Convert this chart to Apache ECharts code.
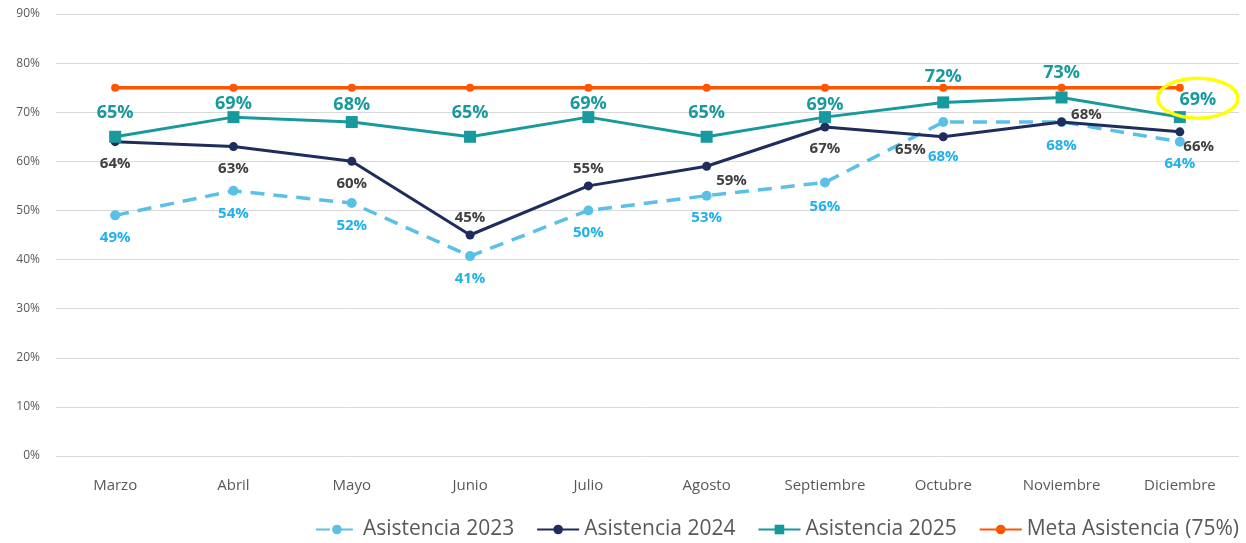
<!DOCTYPE html>
<html>
<head>
<meta charset="utf-8">
<script src="https://cdn.jsdelivr.net/npm/echarts@6/dist/echarts.min.js"></script>
<style>
  html, body { margin: 0; padding: 0; background: #fff; }
  #chart { width: 1246px; height: 543px; }
</style>
</head>
<body>
<div id="chart"></div>
<script>
var meses = ['Marzo', 'Abril', 'Mayo', 'Junio', 'Julio', 'Agosto', 'Septiembre', 'Octubre', 'Noviembre', 'Diciembre'];
var asis2023 = [49, 54, 51.5, 40.7, 50, 53, 55.7, 68, 68, 64];
var asis2024 = [64, 63, 60, 45, 55, 59, 67, 65, 68, 66];
var asis2025 = [65, 69, 68, 65, 69, 65, 69, 72, 73, 69];
var meta = [75, 75, 75, 75, 75, 75, 75, 75, 75, 75];

// ajustes de etiquetas (estilo, no datos)
var pos2023 = [
  { position: 'bottom', offset: [0, 5] },
  { position: 'bottom', offset: [0, 5] },
  { position: 'bottom', offset: [0, 5] },
  { position: 'bottom', offset: [0, 5] },
  { position: 'bottom', offset: [0, 5] },
  { position: 'bottom', offset: [0, 5] },
  { position: 'bottom', offset: [0, 7] },
  { position: 'bottom', offset: [0, 17] },
  { position: 'bottom', offset: [0, 6] },
  { position: 'bottom', offset: [0, 5] }
];
var pos2024 = [
  { position: 'bottom', offset: [0, 5] },
  { position: 'bottom', offset: [0, 5] },
  { position: 'bottom', offset: [0, 5] },
  { position: 'top', offset: [0, 0] },
  { position: 'top', offset: [0, 0] },
  { position: 'right', offset: [0, 14] },
  { position: 'bottom', offset: [0, 5] },
  { position: 'left', offset: [-8, 13] },
  { position: 'right', offset: [0, -7] },
  { position: 'right', offset: [-6, 15] }
];
var pos2025 = [
  { position: 'top', offset: [0, 1] },
  { position: 'top', offset: [0, 12] },
  { position: 'top', offset: [0, 8] },
  { position: 'top', offset: [0, 1] },
  { position: 'top', offset: [0, 12] },
  { position: 'top', offset: [0, 1] },
  { position: 'top', offset: [0, 13] },
  { position: 'top', offset: [0, -1] },
  { position: 'top', offset: [0, 0] },
  { position: 'top', offset: [18, 8] }
];

function conEtiquetas(vals, pos) {
  return vals.map(function(v, i) {
    return { value: v, label: pos[i] };
  });
}

var pct = function(p) { return Math.round(p.value) + '%'; };

var myChart = echarts.init(document.getElementById('chart'));
myChart.setOption({
  animation: false,
  textStyle: { fontFamily: 'Open Sans, Noto Sans, sans-serif' },
  grid: { left: 56, right: 7, top: 14, bottom: 87 },
  legend: {
    right: 2,
    bottom: -2,
    itemWidth: 42,
    itemHeight: 12,
    itemGap: 22,
    textStyle: { fontSize: 21, color: '#595959' },
    data: ['Asistencia 2023', 'Asistencia 2024', 'Asistencia 2025', 'Meta Asistencia (75%)']
  },
  xAxis: {
    type: 'category',
    data: meses,
    boundaryGap: true,
    axisLine: { show: false },
    axisTick: { show: false },
    axisLabel: { color: '#595959', fontSize: 15, margin: 22 }
  },
  yAxis: {
    type: 'value',
    min: 0,
    max: 90,
    interval: 10,
    axisLabel: { formatter: '{value}%', color: '#595959', fontSize: 12, margin: 16 },
    splitLine: { lineStyle: { color: '#d9d9d9', width: 1 } }
  },
  series: [
    {
      name: 'Asistencia 2023',
      type: 'line',
      data: conEtiquetas(asis2023, pos2023),
      symbol: 'circle',
      symbolSize: 10,
      itemStyle: { color: '#5bc0e8' },
      lineStyle: { color: '#5bc0e8', width: 3.5, type: [14, 9] },
      label: { show: true, formatter: pct, color: '#1fb1ea', fontSize: 15, fontWeight: 'bold' },
      z: 2
    },
    {
      name: 'Asistencia 2024',
      type: 'line',
      data: conEtiquetas(asis2024, pos2024),
      symbol: 'circle',
      symbolSize: 9,
      itemStyle: { color: '#1f2d5c' },
      lineStyle: { color: '#1f2d5c', width: 3 },
      label: { show: true, formatter: pct, color: '#404040', fontSize: 15, fontWeight: 'bold' },
      z: 3
    },
    {
      name: 'Asistencia 2025',
      type: 'line',
      data: conEtiquetas(asis2025, pos2025),
      symbol: 'rect',
      symbolSize: 12,
      itemStyle: { color: '#17999e' },
      lineStyle: { color: '#17999e', width: 3 },
      label: { show: true, distance: 10, formatter: pct, color: '#17999e', fontSize: 18, fontWeight: 'bold' },
      z: 6
    },
    {
      name: 'Meta Asistencia (75%)',
      type: 'line',
      data: meta,
      symbol: 'circle',
      symbolSize: 8,
      itemStyle: { color: '#ff5500' },
      lineStyle: { color: '#ff5500', width: 3.5 },
      z: 5
    }
  ]
});

// óvalo amarillo alrededor de la última etiqueta de 2025
var last = asis2025.length - 1;
var p = myChart.convertToPixel({ seriesIndex: 2 }, [last, asis2025[last]]);
myChart.setOption({
  graphic: [{
    type: 'ellipse',
    shape: { cx: p[0] + 18, cy: p[1] - 19, rx: 40, ry: 20 },
    style: { fill: 'none', stroke: '#ffff00', lineWidth: 3.5 },
    z: 10
  }]
});
</script>
</body>
</html>
